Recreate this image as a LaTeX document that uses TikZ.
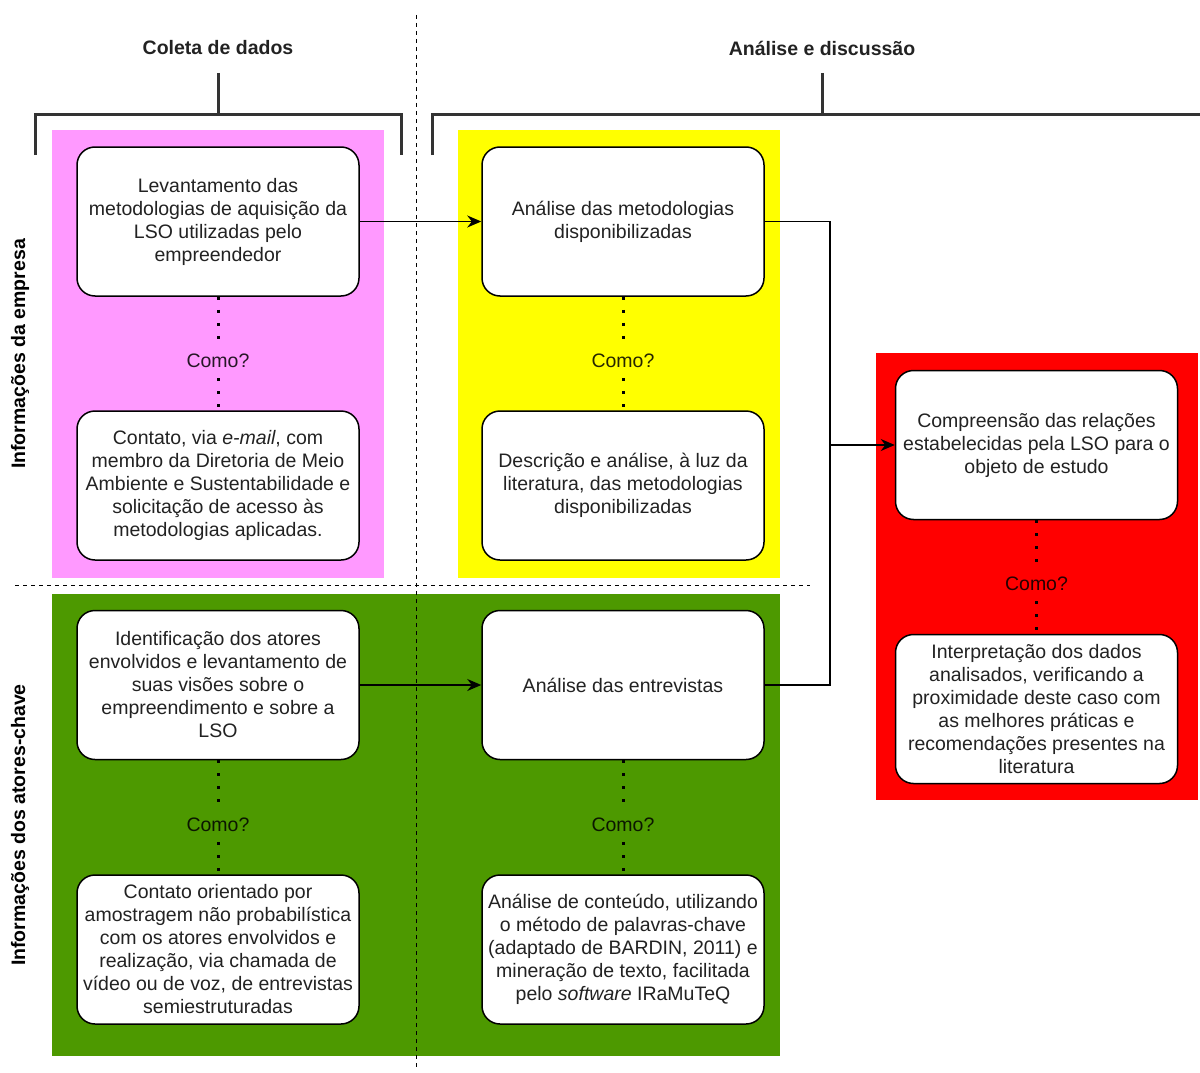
\documentclass[tikz,border=0pt]{standalone}
\usepackage{fontspec}
\setmainfont{Liberation Sans}
\usetikzlibrary{arrows.meta}
\definecolor{pinkbg}{HTML}{FF99FF}
\definecolor{yellowbg}{HTML}{FFFF00}
\definecolor{greenbg}{HTML}{4D9900}
\definecolor{redbg}{HTML}{FF0000}
\definecolor{brkgray}{HTML}{333333}
\definecolor{txtgray}{HTML}{222222}
\newcommand{\boxfont}{\fontsize{19.5}{23}\selectfont}
\begin{document}
\begin{tikzpicture}[x=1pt,y=-1pt,
  procbox/.style={draw=black, line width=1.5pt, fill=white, rounded corners=18pt,
    minimum width=282pt, minimum height=149pt, inner sep=1pt, align=center,
    font=\boxfont, text=txtgray},
  comolbl/.style={font=\boxfont, text=black, text opacity=0.85, inner xsep=2pt,
    inner ysep=7pt, text height=14pt, text depth=4pt},
  dotconn/.style={line width=3pt, dash pattern=on 3pt off 10pt, draw=black},
  conn/.style={line width=1.5pt, draw=black},
  arr/.style={conn, -{Stealth[length=14pt,width=12pt]}},
  brk/.style={line width=3pt, draw=brkgray},
  sep/.style={line width=1pt, draw=black, dash pattern=on 4pt off 4pt},
  ttl/.style={font=\bfseries\boxfont, text=txtgray},
  side/.style={font=\bfseries\boxfont, text=black, rotate=90}
]
\useasboundingbox (0,0) rectangle (1200,1073);

% background panels
\fill[pinkbg] (52,130) rectangle (384,578);
\fill[yellowbg] (458,130) rectangle (780,578);
\fill[greenbg] (52,594) rectangle (780,1056);
\fill[redbg] (876,353) rectangle (1198,800);

% separators
\draw[sep] (416,15) -- (416,1070);
\draw[sep] (15,585) -- (810,585);

% brackets and titles
\node[ttl] (t1) at (218,48) {Coleta de dados};
\node[ttl] (t2) at (822,48) {Análise e discussão};
\draw[brk] (35,155) -- (35,114) -- (401,114) -- (401,155);
\draw[brk] (218,73) -- (218,114);
\draw[brk] (432,155) -- (432,114) -- (1201,114);
\draw[brk] (822,73) -- (822,114);

% side labels
\node[side] (s1) at (20,354) {Informações da empresa};
\node[side] (s2) at (20,825) {Informações dos atores-chave};

% boxes
\node[procbox] (b1) at (218,221.5) {Levantamento das\\metodologias de aquisição da\\LSO utilizadas pelo\\empreendedor};
\node[procbox] (b2) at (218,485.5) {Contato, via \textit{e-mail}, com\\membro da Diretoria de Meio\\Ambiente e Sustentabilidade e\\solicitação de acesso às\\metodologias aplicadas.};
\node[procbox] (b3) at (623,221.5) {Análise das metodologias\\disponibilizadas};
\node[procbox] (b4) at (623,485.5) {Descrição e análise, à luz da\\literatura, das metodologias\\disponibilizadas};
\node[procbox] (b5) at (218,685) {Identificação dos atores\\envolvidos e levantamento de\\suas visões sobre o\\empreendimento e sobre a\\LSO};
\node[procbox] (b6) at (218,949.5) {Contato orientado por\\amostragem não probabilística\\com os atores envolvidos e\\realização, via chamada de\\vídeo ou de voz, de entrevistas\\semiestruturadas};
\node[procbox] (b7) at (623,685) {Análise das entrevistas};
\node[procbox] (b8) at (623,949.5) {Análise de conteúdo, utilizando\\o método de palavras-chave\\(adaptado de BARDIN, 2011) e\\mineração de texto, facilitada\\pelo \textit{software} IRaMuTeQ};
\node[procbox] (b9) at (1036.5,445) {Compreensão das relações\\estabelecidas pela LSO para o\\objeto de estudo};
\node[procbox] (b10) at (1036.5,709) {Interpretação dos dados\\analisados, verificando a\\proximidade deste caso com\\as melhores práticas e\\recomendações presentes na\\literatura};

% "Como?" labels and dotted links
\node[comolbl] (c1) at (218,362) {Como?};
\node[comolbl] (c2) at (623,362) {Como?};
\node[comolbl] (c3) at (218,826) {Como?};
\node[comolbl] (c4) at (623,826) {Como?};
\node[comolbl] (c5) at (1036.5,585) {Como?};
\draw[dotconn] (b1.south) -- (c1.north);
\draw[dotconn] (c1.south) -- (b2.north);
\draw[dotconn] (b3.south) -- (c2.north);
\draw[dotconn] (c2.south) -- (b4.north);
\draw[dotconn] (b5.south) -- (c3.north);
\draw[dotconn] (c3.south) -- (b6.north);
\draw[dotconn] (b7.south) -- (c4.north);
\draw[dotconn] (c4.south) -- (b8.north);
\draw[dotconn] (b9.south) -- (c5.north);
\draw[dotconn] (c5.south) -- (b10.north);

% flow connectors
\draw[arr] (b1.east) -- (b3.west);
\draw[arr] (b5.east) -- (b7.west);
\coordinate (j) at (830,445);
\draw[conn] (b3.east) -| (j);
\draw[conn] (b7.east) -| (j);
\draw[arr] (j) -- (b9.west);
\end{tikzpicture}
\end{document}
